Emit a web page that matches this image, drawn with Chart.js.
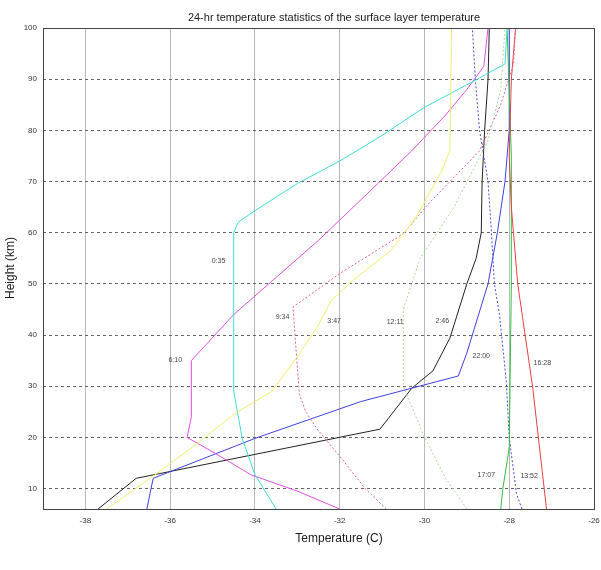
<!DOCTYPE html>
<html>
<head>
<meta charset="utf-8">
<script src="https://cdn.jsdelivr.net/npm/chart.js@4"></script>
<style>
  html, body { margin: 0; padding: 0; background: #fff; }
  #wrap { width: 601px; height: 570px; }
</style>
</head>
<body>
<div id="wrap"><canvas id="myChart" width="601" height="570"></canvas></div>
<script>
// tick values
const xTicks = [-38, -36, -34, -32, -30, -28, -26]
const yTicks = [10, 20, 30, 40, 50, 60, 70, 80, 90, 100]

// profiles, temperature (C) vs height (km)
const cyanT = [-33.5, -34.0, -34.3, -34.5, -34.5, -34.4, -34.0, -33.0, -32.0, -31.0, -30.0, -28.75, -28.1, -28.05]
const cyanH = [6, 12.7, 19.8, 29, 60, 62, 64.3, 69.6, 74, 79, 84.5, 90, 93, 100]

const magentaT = [-32.0, -33.0, -34.1, -34.9, -35.6, -35.5, -35.5, -34.5, -32.5, -31.1, -30.3, -29.5, -29.0, -28.6, -28.5]
const magentaH = [6, 9.5, 12.7, 16.7, 20, 24, 35, 44, 58.5, 69.6, 76, 83, 88, 92.5, 100]

const pinkDotT = [-30.9, -31.4, -31.9, -32.55, -32.8, -32.95, -33.05, -33.1, -32.0, -30.5, -29.9, -28.7, -28.2, -27.9, -27.85]
const pinkDotH = [6, 10, 15.3, 21.8, 25, 28.4, 39.4, 45.5, 52, 59.8, 65.7, 76, 85, 93, 100]

const yellowT = [-37.5, -36.3, -35.3, -34.5, -33.6, -32.95, -32.5, -32.2, -31.7, -30.8, -30.2, -29.6, -29.4, -29.36]
const yellowH = [6, 13, 19.2, 24.5, 29, 36.3, 42, 46.7, 50.6, 56.5, 63, 72, 76, 100]

const greenDotT = [-29.0, -29.5, -30.0, -30.5, -30.5, -30.1, -29.3, -28.5, -28.2, -28.1]
const greenDotH = [6, 12, 20, 30, 45, 55, 65, 78, 88, 100]

const blackT = [-37.7, -36.8, -31.05, -30.3, -29.8, -29.4, -29.0, -28.78, -28.66, -28.64, -28.58, -28.5, -28.47]
const blackH = [6, 12, 21.6, 29.6, 33, 39.4, 50, 55, 60, 70, 80, 90, 100]

const blueT = [-36.55, -36.4, -34.0, -31.5, -29.2, -29.0, -28.5, -28.28, -28.1, -28.0, -28.0]
const blueH = [6, 12, 19.8, 27, 32, 36.5, 50, 60, 70, 80, 100]

const redT = [-27.12, -27.45, -27.8, -27.95, -28.0, -27.95, -27.85]
const redH = [6, 30, 50, 65, 75, 90, 100]

const greenT = [-28.2, -28.15, -28.0, -27.95, -27.95, -28.05]
const greenH = [6, 10, 18, 50, 75, 100]

const blueDotT = [-27.7, -27.83, -28.0, -28.07, -28.23, -28.35, -28.42, -28.5, -28.7, -28.8, -28.87]
const blueDotH = [6, 9, 20, 31, 44, 50, 60, 70, 80, 90, 100]

// time labels written next to the curves
const labelText = ['0:35', '6:10', '9:34', '3:47', '12:11', '2:46', '22:00', '16:28', '17:07', '13:52']
const labelT = [-34.86, -35.88, -33.35, -32.13, -30.69, -29.58, -28.66, -27.22, -28.54, -27.53]
const labelH = [54.5, 35.1, 43.5, 42.7, 42.5, 42.7, 35.9, 34.5, 12.7, 12.4]

function pares(ts, hs) {
  return ts.map((t, i) => ({ x: t, y: hs[i] }))
}

function serie(ts, hs, color, dash) {
  return {
    data: pares(ts, hs),
    borderColor: color,
    borderWidth: 1,
    borderDash: dash || [],
    showLine: true,
    pointRadius: 0,
    tension: 0
  }
}

const FONT = '"Liberation Sans", Arial, sans-serif'

/** textos: título, ejes, etiquetas y marco */
const textos = {
  id: 'textos',
  afterDraw(chart) {
    const { ctx, chartArea: a, scales } = chart
    ctx.save()
    ctx.strokeStyle = '#444'
    ctx.lineWidth = 1
    ctx.strokeRect(a.left + 0.5, a.top + 0.5, a.right - a.left, a.bottom - a.top)

    ctx.fillStyle = '#1a1a1a'
    ctx.textAlign = 'center'
    ctx.textBaseline = 'middle'
    ctx.font = '11px ' + FONT
    ctx.fillText('24-hr temperature statistics of the surface layer temperature', 334, 18)

    ctx.font = '12px ' + FONT
    ctx.fillText('Temperature (C)', 339, 539)

    ctx.save()
    ctx.translate(11, 268)
    ctx.rotate(-Math.PI / 2)
    ctx.fillText('Height (km)', 0, 0)
    ctx.restore()

    ctx.font = '7px ' + FONT
    ctx.fillStyle = '#444'
    labelText.forEach((txt, i) => {
      ctx.fillText(txt, scales.x.getPixelForValue(labelT[i]), scales.y.getPixelForValue(labelH[i]))
    })
    ctx.restore()
  }
}

const ctx = document.getElementById('myChart')

new Chart(ctx, {
  type: 'scatter',
  data: {
    datasets: [
      serie(yellowT, yellowH, '#f2ee70'),
      serie(greenDotT, greenDotH, '#a8dc98', [2, 2]),
      serie(cyanT, cyanH, '#40dcdc'),
      serie(magentaT, magentaH, '#e050e0'),
      serie(pinkDotT, pinkDotH, '#e06090', [2, 2]),
      serie(redT, redH, '#e84040'),
      serie(greenT, greenH, '#30c040'),
      serie(blueDotT, blueDotH, '#4848e0', [2, 2]),
      serie(blueT, blueH, '#4040e0'),
      serie(blackT, blackH, '#222222')
    ]
  },
  options: {
    responsive: false,
    animation: false,
    layout: { padding: { top: 28, right: 7, left: 0, bottom: 0 } },
    plugins: {
      legend: { display: false },
      tooltip: { enabled: false },
      title: { display: false }
    },
    scales: {
      x: {
        type: 'linear',
        min: -39,
        max: -26,
        afterBuildTicks: scale => { scale.ticks = xTicks.map(v => ({ value: v })) },
        afterFit: scale => {
          scale.height = 61
          scale.paddingLeft = 0
          scale.paddingRight = 0
        },
        grid: { color: '#b8b8b8', drawTicks: false },
        border: { display: false },
        ticks: { color: '#333', font: { size: 8, family: FONT }, padding: 7 }
      },
      y: {
        type: 'linear',
        min: 6,
        max: 100,
        afterBuildTicks: scale => { scale.ticks = yTicks.map(v => ({ value: v })) },
        afterFit: scale => {
          scale.width = 43
          scale.paddingTop = 0
          scale.paddingBottom = 0
        },
        grid: { color: '#666', drawTicks: false },
        border: { display: false, dash: [3, 3] },
        ticks: { color: '#333', font: { size: 8, family: FONT }, padding: 6 }
      }
    }
  },
  plugins: [textos]
})
</script>
</body>
</html>
